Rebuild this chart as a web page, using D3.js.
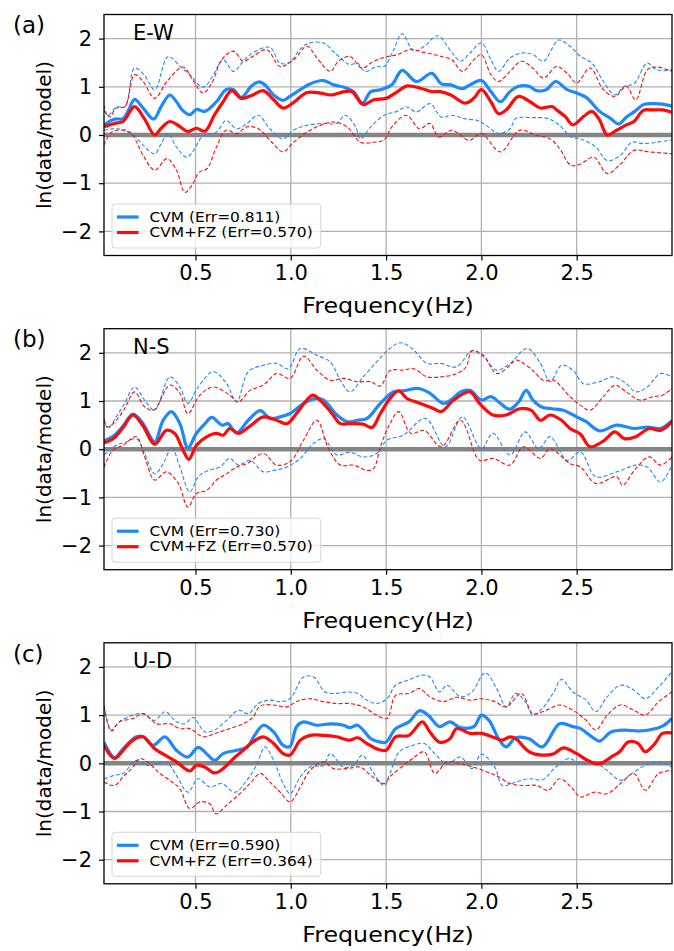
<!DOCTYPE html>
<html>
<head>
<meta charset="utf-8">
<script src="https://cdn.jsdelivr.net/npm/d3@7"></script>
<style>
  body { margin: 0; background: #fff; }
  svg text { font-family: "DejaVu Sans", sans-serif; fill: #000; }
</style>
</head>
<body>
<div id="chart"></div>
<script>
// ---- data: [frequency (Hz), ln(data/model)] ----
const ewCvm = [[0.02,0.21],[0.075,0.33],[0.12,0.34],[0.146,0.49],[0.18,0.74],[0.225,0.56],[0.28,0.33],[0.32,0.59],[0.365,0.83],[0.40,0.69],[0.43,0.52],[0.47,0.42],[0.505,0.53],[0.55,0.49],[0.61,0.69],[0.66,0.94],[0.70,0.94],[0.74,0.78],[0.795,1.02],[0.83,1.10],[0.865,1.04],[0.91,0.83],[0.96,0.72],[0.995,0.80],[1.05,0.94],[1.10,1.06],[1.17,1.13],[1.225,1.04],[1.28,0.99],[1.33,0.90],[1.375,0.66],[1.42,0.90],[1.47,0.94],[1.53,1.04],[1.584,1.34],[1.66,1.11],[1.74,1.28],[1.79,1.06],[1.84,1.04],[1.90,0.96],[1.94,1.04],[2.0,1.13],[2.05,0.90],[2.10,0.69],[2.15,0.90],[2.195,1.01],[2.25,1.01],[2.29,0.92],[2.34,0.94],[2.39,1.11],[2.45,0.94],[2.50,0.87],[2.55,0.78],[2.62,0.49],[2.675,0.35],[2.72,0.23],[2.76,0.37],[2.805,0.49],[2.85,0.63],[2.90,0.65],[2.95,0.64],[3.0,0.60]];
const ewFz = [[0.02,0.17],[0.075,0.24],[0.12,0.28],[0.18,0.59],[0.23,0.35],[0.286,0.0],[0.32,0.14],[0.365,0.28],[0.42,0.17],[0.46,0.07],[0.505,0.14],[0.55,0.08],[0.60,0.42],[0.645,0.69],[0.69,0.92],[0.74,0.76],[0.80,0.83],[0.855,0.92],[0.91,0.73],[0.96,0.56],[1.01,0.66],[1.085,0.88],[1.155,0.87],[1.21,0.83],[1.28,0.90],[1.32,0.90],[1.38,0.63],[1.435,0.73],[1.50,0.76],[1.56,0.90],[1.61,1.02],[1.68,0.97],[1.74,0.90],[1.785,0.90],[1.84,0.83],[1.915,0.66],[1.96,0.76],[2.0,0.94],[2.05,0.69],[2.09,0.44],[2.13,0.52],[2.195,0.80],[2.255,0.69],[2.31,0.56],[2.37,0.59],[2.395,0.52],[2.44,0.38],[2.48,0.21],[2.535,0.38],[2.58,0.49],[2.62,0.31],[2.66,0.0],[2.71,0.10],[2.76,0.21],[2.80,0.28],[2.85,0.51],[2.90,0.52],[2.95,0.52],[3.0,0.47]];
const ewCvmUp = [[0.02,0.62],[0.04,0.40],[0.085,0.58],[0.13,0.59],[0.18,1.39],[0.23,1.25],[0.286,0.94],[0.356,1.63],[0.42,1.42],[0.47,1.25],[0.54,0.99],[0.59,1.22],[0.645,1.56],[0.70,1.32],[0.75,1.53],[0.80,1.70],[0.89,1.82],[0.944,1.49],[0.996,1.51],[1.04,1.74],[1.085,1.89],[1.17,1.91],[1.24,1.67],[1.31,1.46],[1.35,1.49],[1.39,1.32],[1.45,1.42],[1.49,1.42],[1.54,1.77],[1.584,2.10],[1.645,1.74],[1.70,1.84],[1.77,2.06],[1.84,1.74],[1.89,1.53],[1.94,1.70],[2.0,1.91],[2.05,1.56],[2.09,1.32],[2.15,1.60],[2.21,1.70],[2.27,1.67],[2.325,1.53],[2.405,1.97],[2.465,1.84],[2.52,1.63],[2.58,1.49],[2.64,1.11],[2.70,0.83],[2.75,1.01],[2.80,1.06],[2.87,1.49],[2.92,1.35],[3.0,1.35]];
const ewFzUp = [[0.02,0.52],[0.05,0.38],[0.085,0.56],[0.13,0.59],[0.18,1.25],[0.225,1.11],[0.286,0.76],[0.35,1.11],[0.435,1.41],[0.49,1.11],[0.54,0.87],[0.59,1.11],[0.637,1.56],[0.70,1.74],[0.75,1.53],[0.80,1.63],[0.874,1.77],[0.944,1.42],[1.014,1.56],[1.085,1.84],[1.137,1.60],[1.207,1.32],[1.25,1.53],[1.31,1.63],[1.373,1.39],[1.435,1.53],[1.50,1.62],[1.56,1.67],[1.63,1.78],[1.69,1.72],[1.75,1.67],[1.79,1.63],[1.845,1.56],[1.90,1.32],[1.96,1.56],[2.0,1.67],[2.05,1.25],[2.09,1.11],[2.15,1.32],[2.21,1.53],[2.27,1.39],[2.325,1.18],[2.395,1.42],[2.45,1.28],[2.50,1.08],[2.57,1.39],[2.64,0.94],[2.70,0.80],[2.76,1.01],[2.81,0.73],[2.87,1.35],[2.92,1.41],[3.0,1.32]];
const ewCvmLo = [[0.02,0.10],[0.075,0.13],[0.137,0.10],[0.17,0.03],[0.225,-0.21],[0.286,-0.39],[0.32,-0.18],[0.356,0.03],[0.40,-0.25],[0.453,-0.46],[0.49,-0.32],[0.54,-0.01],[0.61,0.06],[0.66,0.30],[0.716,0.13],[0.77,0.24],[0.83,0.41],[0.89,0.13],[0.96,-0.08],[1.014,0.10],[1.085,0.20],[1.17,0.24],[1.24,0.24],[1.286,0.41],[1.34,0.17],[1.365,-0.08],[1.42,0.17],[1.49,0.41],[1.55,0.48],[1.607,0.58],[1.66,0.48],[1.73,0.65],[1.79,0.37],[1.845,0.41],[1.91,0.34],[1.98,0.30],[2.025,0.20],[2.09,0.03],[2.15,0.13],[2.18,0.34],[2.27,0.36],[2.35,0.34],[2.41,0.20],[2.47,-0.04],[2.52,-0.08],[2.60,-0.25],[2.66,-0.53],[2.73,-0.42],[2.79,-0.15],[2.85,-0.18],[2.92,-0.15],[3.0,-0.10]];
const ewFzLo = [[0.02,-0.21],[0.06,0.06],[0.12,0.10],[0.17,-0.01],[0.225,-0.42],[0.286,-0.73],[0.35,-0.49],[0.40,-0.73],[0.444,-1.19],[0.48,-1.05],[0.52,-0.77],[0.56,-0.70],[0.61,-0.25],[0.66,0.10],[0.716,0.03],[0.77,0.17],[0.83,0.13],[0.90,-0.15],[0.96,-0.35],[1.014,-0.15],[1.085,0.06],[1.155,0.20],[1.225,0.27],[1.295,0.17],[1.365,-0.15],[1.435,-0.15],[1.49,-0.10],[1.53,0.17],[1.607,0.41],[1.675,0.13],[1.73,0.24],[1.777,-0.04],[1.845,0.10],[1.935,-0.11],[2.0,0.03],[2.10,-0.35],[2.20,0.10],[2.29,-0.01],[2.36,-0.08],[2.41,-0.28],[2.47,-0.63],[2.52,-0.60],[2.59,-0.46],[2.66,-0.80],[2.73,-0.60],[2.80,-0.32],[2.88,-0.35],[3.0,-0.39]];

const nsCvm = [[0.02,0.17],[0.075,0.29],[0.12,0.48],[0.172,0.73],[0.225,0.53],[0.286,0.15],[0.33,0.60],[0.374,0.78],[0.418,0.53],[0.46,0.03],[0.505,0.33],[0.55,0.53],[0.585,0.66],[0.64,0.50],[0.67,0.53],[0.716,0.34],[0.777,0.60],[0.84,0.80],[0.89,0.64],[0.944,0.67],[0.996,0.74],[1.067,0.95],[1.128,1.05],[1.172,1.02],[1.242,0.71],[1.295,0.57],[1.35,0.60],[1.40,0.64],[1.47,0.95],[1.54,1.19],[1.59,1.21],[1.67,1.26],[1.73,1.16],[1.80,0.95],[1.85,1.05],[1.89,1.19],[1.94,1.22],[2.0,1.02],[2.05,1.09],[2.10,0.95],[2.15,0.83],[2.195,0.98],[2.235,1.22],[2.27,1.02],[2.32,0.87],[2.37,0.84],[2.43,0.81],[2.50,0.67],[2.55,0.57],[2.62,0.38],[2.71,0.50],[2.80,0.43],[2.87,0.46],[2.94,0.43],[3.0,0.59]];
const nsFz = [[0.02,0.13],[0.075,0.24],[0.12,0.45],[0.172,0.71],[0.225,0.48],[0.286,0.10],[0.347,0.39],[0.39,0.33],[0.435,-0.02],[0.465,-0.21],[0.505,0.08],[0.56,0.26],[0.61,0.33],[0.645,0.29],[0.68,0.43],[0.725,0.33],[0.786,0.48],[0.856,0.67],[0.926,0.60],[0.98,0.53],[1.03,0.74],[1.084,1.02],[1.116,1.12],[1.163,0.98],[1.216,0.74],[1.26,0.53],[1.31,0.53],[1.38,0.52],[1.426,0.45],[1.47,0.74],[1.52,1.05],[1.566,1.21],[1.61,1.05],[1.68,0.95],[1.75,0.84],[1.79,0.78],[1.855,1.02],[1.94,1.19],[1.99,0.95],[2.06,0.71],[2.13,0.71],[2.20,0.84],[2.26,0.81],[2.31,0.60],[2.36,0.71],[2.42,0.60],[2.465,0.43],[2.52,0.31],[2.57,0.05],[2.64,0.17],[2.70,0.36],[2.75,0.22],[2.81,0.26],[2.88,0.43],[2.94,0.39],[3.0,0.57]];
const nsCvmUp = [[0.02,0.64],[0.04,0.43],[0.084,0.67],[0.128,0.95],[0.18,1.29],[0.233,1.02],[0.286,0.81],[0.365,1.50],[0.418,1.29],[0.46,0.95],[0.514,1.29],[0.593,1.61],[0.663,1.36],[0.716,0.98],[0.777,1.61],[0.856,1.74],[0.926,1.78],[0.987,1.67],[1.05,2.09],[1.137,1.95],[1.207,1.81],[1.26,1.43],[1.31,1.19],[1.38,1.50],[1.45,1.81],[1.52,2.09],[1.575,2.21],[1.636,2.09],[1.715,1.78],[1.785,1.78],[1.87,1.71],[1.95,2.04],[2.01,1.92],[2.08,1.64],[2.15,1.78],[2.24,2.09],[2.31,1.78],[2.36,1.40],[2.42,1.74],[2.48,1.64],[2.535,1.36],[2.62,1.40],[2.69,1.50],[2.76,1.36],[2.81,1.19],[2.87,1.29],[2.94,1.57],[3.0,1.50]];
const nsFzUp = [[0.02,0.60],[0.04,0.46],[0.084,0.60],[0.128,0.84],[0.18,1.19],[0.233,0.88],[0.28,0.81],[0.365,1.33],[0.418,1.16],[0.46,0.74],[0.523,1.12],[0.593,1.29],[0.68,1.12],[0.725,0.98],[0.786,1.22],[0.856,1.33],[0.926,1.57],[0.996,1.47],[1.067,1.93],[1.137,1.64],[1.207,1.43],[1.277,1.47],[1.35,1.40],[1.42,1.40],[1.47,1.31],[1.52,1.63],[1.59,1.64],[1.645,1.67],[1.715,1.50],[1.785,1.50],[1.87,1.57],[1.92,1.71],[1.95,2.04],[2.01,1.95],[2.08,1.57],[2.15,1.74],[2.18,1.85],[2.26,1.67],[2.325,1.43],[2.38,1.43],[2.465,1.09],[2.52,0.91],[2.57,0.81],[2.64,1.09],[2.70,1.33],[2.76,1.19],[2.83,1.02],[2.90,1.09],[2.95,1.12],[3.0,1.26]];
const nsCvmLo = [[0.02,-0.12],[0.084,0.08],[0.137,0.15],[0.19,0.22],[0.233,-0.09],[0.286,-0.51],[0.34,-0.23],[0.374,0.06],[0.418,-0.37],[0.47,-0.89],[0.514,-0.57],[0.567,-0.44],[0.628,-0.37],[0.68,-0.19],[0.725,-0.33],[0.786,-0.23],[0.856,-0.47],[0.91,-0.44],[0.98,-0.37],[1.05,-0.19],[1.12,0.12],[1.172,0.22],[1.242,-0.12],[1.31,-0.06],[1.38,-0.16],[1.45,-0.09],[1.505,0.19],[1.59,0.29],[1.706,0.64],[1.81,0.05],[1.90,0.67],[2.0,0.01],[2.06,0.33],[2.15,-0.12],[2.23,0.36],[2.30,0.01],[2.36,0.26],[2.45,-0.23],[2.52,-0.06],[2.60,-0.57],[2.71,-0.47],[2.81,-0.33],[2.87,-0.37],[2.94,-0.68],[3.0,-0.33]];
const nsFzLo = [[0.02,-0.37],[0.066,-0.02],[0.12,0.08],[0.19,0.26],[0.233,-0.16],[0.286,-0.64],[0.347,-0.47],[0.41,-0.71],[0.46,-1.20],[0.505,-0.92],[0.56,-0.85],[0.61,-0.64],[0.663,-0.51],[0.716,-0.37],[0.77,-0.30],[0.856,-0.09],[0.926,-0.33],[0.996,-0.26],[1.067,0.19],[1.137,0.60],[1.198,0.01],[1.26,-0.33],[1.33,-0.33],[1.40,-0.44],[1.435,-0.40],[1.47,0.05],[1.52,0.53],[1.566,0.78],[1.63,0.33],[1.70,0.39],[1.79,0.05],[1.89,0.60],[1.99,-0.23],[2.06,-0.19],[2.15,-0.33],[2.22,0.05],[2.31,-0.19],[2.36,0.01],[2.465,-0.30],[2.52,-0.37],[2.60,-0.71],[2.71,-0.57],[2.74,-0.75],[2.81,-0.40],[2.88,-0.16],[2.94,-0.33],[3.0,-0.16]];

const udCvm = [[0.02,0.44],[0.075,0.12],[0.12,0.30],[0.19,0.55],[0.225,0.55],[0.277,0.37],[0.34,0.55],[0.40,0.27],[0.46,0.13],[0.514,0.33],[0.558,0.20],[0.60,0.06],[0.645,0.20],[0.716,0.27],[0.77,0.33],[0.81,0.58],[0.856,0.79],[0.91,0.65],[0.96,0.37],[0.996,0.35],[1.03,0.76],[1.067,0.86],[1.137,0.79],[1.207,0.82],[1.277,0.79],[1.31,0.74],[1.35,0.79],[1.38,0.69],[1.42,0.51],[1.47,0.44],[1.50,0.44],[1.55,0.72],[1.62,0.86],[1.675,1.09],[1.72,1.0],[1.78,0.76],[1.835,0.86],[1.89,0.74],[1.96,0.76],[2.0,1.0],[2.04,0.89],[2.09,0.51],[2.13,0.34],[2.18,0.53],[2.25,0.51],[2.32,0.34],[2.41,0.82],[2.48,0.76],[2.52,0.72],[2.58,0.55],[2.62,0.46],[2.68,0.65],[2.75,0.69],[2.82,0.67],[2.88,0.69],[2.95,0.77],[3.0,0.93]];
const udFz = [[0.02,0.37],[0.075,0.10],[0.12,0.27],[0.172,0.48],[0.225,0.55],[0.286,0.30],[0.34,0.17],[0.40,0.03],[0.47,-0.16],[0.505,-0.04],[0.55,-0.08],[0.60,-0.20],[0.645,-0.11],[0.70,0.10],[0.75,0.27],[0.80,0.44],[0.856,0.55],[0.91,0.41],[0.96,0.20],[0.996,0.17],[1.05,0.48],[1.10,0.58],[1.17,0.58],[1.24,0.55],[1.31,0.48],[1.35,0.53],[1.40,0.41],[1.45,0.30],[1.50,0.27],[1.55,0.55],[1.62,0.58],[1.69,0.86],[1.73,0.65],[1.78,0.44],[1.835,0.51],[1.87,0.72],[1.94,0.62],[2.0,0.62],[2.07,0.53],[2.11,0.48],[2.15,0.55],[2.18,0.51],[2.25,0.24],[2.32,0.17],[2.38,0.20],[2.43,0.32],[2.50,0.20],[2.54,0.10],[2.60,-0.01],[2.635,0.01],[2.68,0.13],[2.725,0.24],[2.77,0.44],[2.82,0.42],[2.86,0.24],[2.91,0.41],[2.95,0.62],[3.0,0.63]];
const udCvmUp = [[0.02,1.21],[0.058,0.69],[0.10,0.86],[0.172,1.0],[0.225,1.03],[0.286,0.89],[0.34,1.07],[0.40,0.86],[0.444,0.82],[0.488,0.95],[0.55,0.65],[0.60,0.69],[0.663,0.89],[0.725,1.10],[0.777,1.03],[0.83,1.24],[0.89,1.31],[0.944,1.28],[0.996,1.34],[1.067,1.79],[1.12,1.79],[1.18,1.48],[1.24,1.45],[1.295,1.48],[1.35,1.45],[1.40,1.31],[1.45,1.24],[1.505,1.34],[1.55,1.62],[1.62,1.73],[1.69,1.83],[1.73,1.79],[1.78,1.48],[1.82,1.62],[1.89,1.38],[1.95,1.48],[2.02,1.88],[2.08,1.55],[2.13,1.17],[2.18,1.45],[2.23,1.28],[2.27,1.0],[2.32,1.14],[2.38,1.48],[2.42,1.74],[2.48,1.48],[2.55,1.31],[2.60,1.07],[2.66,1.38],[2.73,1.62],[2.80,1.52],[2.86,1.34],[2.93,1.59],[3.0,1.90]];
const udFzUp = [[0.02,1.17],[0.058,0.67],[0.10,0.86],[0.172,0.93],[0.225,1.03],[0.295,0.82],[0.365,0.82],[0.418,0.72],[0.47,0.72],[0.54,0.55],[0.61,0.63],[0.68,0.72],[0.75,0.82],[0.80,0.95],[0.84,1.19],[0.91,1.21],[0.98,1.17],[1.03,1.28],[1.10,1.34],[1.17,1.28],[1.24,1.24],[1.31,1.24],[1.38,1.17],[1.45,1.0],[1.505,0.93],[1.55,1.41],[1.62,1.45],[1.675,1.55],[1.73,1.38],[1.80,1.28],[1.87,1.37],[1.94,1.31],[2.0,1.34],[2.07,1.28],[2.13,1.17],[2.21,1.45],[2.27,1.03],[2.34,1.10],[2.41,1.21],[2.48,1.10],[2.55,0.89],[2.60,0.69],[2.66,1.0],[2.73,1.21],[2.80,1.10],[2.86,1.0],[2.93,1.28],[3.0,1.48]];
const udCvmLo = [[0.02,-0.32],[0.075,-0.25],[0.12,-0.21],[0.19,0.06],[0.24,-0.04],[0.295,-0.01],[0.347,0.03],[0.40,-0.25],[0.46,-0.60],[0.514,-0.32],[0.575,-0.49],[0.637,-0.42],[0.707,-0.60],[0.77,-0.35],[0.82,-0.04],[0.865,0.34],[0.91,0.06],[0.96,-0.42],[0.996,-0.63],[1.05,-0.28],[1.10,-0.08],[1.17,-0.04],[1.207,0.20],[1.277,-0.08],[1.33,-0.04],[1.375,0.17],[1.43,-0.18],[1.49,-0.46],[1.52,-0.21],[1.57,0.24],[1.64,0.37],[1.70,0.41],[1.755,0.20],[1.82,-0.01],[1.89,0.13],[1.95,-0.11],[2.0,0.19],[2.07,-0.08],[2.11,-0.46],[2.18,-0.39],[2.25,-0.32],[2.32,-0.34],[2.39,-0.08],[2.46,0.10],[2.52,-0.01],[2.59,0.03],[2.66,-0.15],[2.73,-0.35],[2.80,-0.18],[2.86,-0.04],[2.93,0.03],[3.0,-0.08]];
const udFzLo = [[0.02,-0.39],[0.075,-0.46],[0.12,-0.28],[0.172,-0.08],[0.207,0.10],[0.26,-0.01],[0.312,-0.21],[0.365,-0.35],[0.418,-0.53],[0.47,-0.94],[0.523,-0.80],[0.575,-0.84],[0.607,-1.05],[0.663,-0.87],[0.733,-0.63],[0.786,-0.42],[0.84,-0.21],[0.89,-0.39],[0.944,-0.60],[0.996,-0.80],[1.05,-0.49],[1.10,-0.15],[1.17,0.03],[1.225,-0.11],[1.295,-0.11],[1.365,-0.08],[1.42,-0.25],[1.49,-0.42],[1.52,-0.28],[1.57,-0.11],[1.64,0.10],[1.70,0.24],[1.755,-0.21],[1.82,0.03],[1.89,-0.01],[1.96,-0.08],[2.03,-0.18],[2.09,-0.28],[2.15,-0.42],[2.22,-0.46],[2.29,-0.46],[2.35,-0.56],[2.41,-0.32],[2.47,-0.49],[2.52,-0.70],[2.59,-0.60],[2.66,-0.63],[2.73,-0.42],[2.80,-0.21],[2.86,-0.56],[2.93,-0.21],[3.0,-0.15]];

const panelTags = ['(a)', '(b)', '(c)'];
const components = ['E-W', 'N-S', 'U-D'];
const errCvm = ['0.811', '0.730', '0.590'];
const errFz = ['0.570', '0.570', '0.364'];
const xTicks = [0.5, 1.0, 1.5, 2.0, 2.5];
const yTicks = [-2, -1, 0, 1, 2];

const panels = [
  {cvm: ewCvm, cvmUp: ewCvmUp, cvmLo: ewCvmLo, fz: ewFz, fzUp: ewFzUp, fzLo: ewFzLo},
  {cvm: nsCvm, cvmUp: nsCvmUp, cvmLo: nsCvmLo, fz: nsFz, fzUp: nsFzUp, fzLo: nsFzLo},
  {cvm: udCvm, cvmUp: udCvmUp, cvmLo: udCvmLo, fz: udFz, fzUp: udFzUp, fzLo: udFzLo}
];

// ---- layout ----
const W = 674, H = 951;
const left = 104, plotW = 568, plotH = 241;
const tops = [14.5, 328.7, 642.8];
const blue = '#1e88ff', red = '#ff0a0a';

const svg = d3.select('#chart').append('svg')
  .attr('width', W).attr('height', H);

const x = d3.scaleLinear().domain([0.02, 3.0]).range([0, plotW]);
const y = d3.scaleLinear().domain([-2.5, 2.5]).range([plotH, 0]);

const line = d3.line()
  .x(d => x(d[0]))
  .y(d => y(d[1]))
  .curve(d3.curveCatmullRom.alpha(0.5));

const fmtY = d => d < 0 ? '\u2212' + Math.abs(d) : String(d);

panels.forEach((p, i) => {
  const g = svg.append('g').attr('transform', `translate(${left},${tops[i]})`);

  g.append('clipPath').attr('id', 'clip' + i)
    .append('rect').attr('width', plotW).attr('height', plotH);

  // grid
  g.append('g').selectAll('line.gx').data(xTicks).join('line')
    .attr('x1', d => x(d)).attr('x2', d => x(d))
    .attr('y1', 0).attr('y2', plotH)
    .attr('stroke', '#b0b0b0').attr('stroke-width', 1.3);
  g.append('g').selectAll('line.gy').data(yTicks).join('line')
    .attr('x1', 0).attr('x2', plotW)
    .attr('y1', d => y(d)).attr('y2', d => y(d))
    .attr('stroke', '#b0b0b0').attr('stroke-width', 1.3);

  // zero reference band
  g.append('line')
    .attr('x1', 0).attr('x2', plotW)
    .attr('y1', y(0)).attr('y2', y(0))
    .attr('stroke', '#858585').attr('stroke-width', 4.5);

  const lines = g.append('g').attr('clip-path', `url(#clip${i})`);
  const series = [
    {d: p.cvmUp, c: blue, w: 1.1, dash: '4,2.2'},
    {d: p.cvmLo, c: blue, w: 1.1, dash: '4,2.2'},
    {d: p.fzUp, c: red, w: 1.1, dash: '4,2.2'},
    {d: p.fzLo, c: red, w: 1.1, dash: '4,2.2'},
    {d: p.cvm, c: blue, w: 3.2, dash: null},
    {d: p.fz, c: red, w: 3.2, dash: null}
  ];
  series.forEach(s => {
    lines.append('path')
      .datum(s.d)
      .attr('d', line)
      .attr('fill', 'none')
      .attr('stroke', s.c)
      .attr('stroke-width', s.w)
      .attr('stroke-dasharray', s.dash);
  });

  // axes
  const xa = g.append('g').attr('transform', `translate(0,${plotH})`)
    .call(d3.axisBottom(x).tickValues(xTicks).tickFormat(d3.format('.1f')).tickSize(5).tickPadding(5));
  const ya = g.append('g')
    .call(d3.axisLeft(y).tickValues(yTicks).tickFormat(fmtY).tickSize(5).tickPadding(7));
  [xa, ya].forEach(a => {
    a.select('.domain').remove();
    a.selectAll('.tick line').attr('stroke', '#000').attr('stroke-width', 1.2);
    a.selectAll('.tick text').attr('font-size', 21).attr('font-family', 'DejaVu Sans').attr('fill', '#000');
  });

  g.append('rect').attr('width', plotW).attr('height', plotH)
    .attr('fill', 'none').attr('stroke', '#000').attr('stroke-width', 1.3);

  // legend
  const lg = g.append('g').attr('transform', 'translate(8,189.5)');
  lg.append('rect').attr('width', 208.7).attr('height', 44).attr('rx', 3)
    .attr('fill', '#fff').attr('fill-opacity', 0.8)
    .attr('stroke', '#d6d6d6').attr('stroke-width', 1);
  const items = [
    {c: blue, t: `CVM (Err=${errCvm[i]})`},
    {c: red, t: `CVM+FZ (Err=${errFz[i]})`}
  ];
  items.forEach((it, k) => {
    const yy = 13 + k * 15.5;
    lg.append('line').attr('x1', 5).attr('x2', 26.6).attr('y1', yy).attr('y2', yy)
      .attr('stroke', it.c).attr('stroke-width', 3.2);
    lg.append('text')
      .attr('transform', `translate(37.4,${yy}) scale(1.17,1)`)
      .attr('dy', '0.36em')
      .attr('font-size', 13.2).text(it.t);
  });

  // labels
  g.append('text').attr('x', 29).attr('y', 17.5).attr('dy', '0.36em')
    .attr('font-size', 21).text(components[i]);
  svg.append('text').attr('x', 13).attr('y', tops[i] + 10.5).attr('dy', '0.36em')
    .attr('font-size', 23).text(panelTags[i]);
  svg.append('text')
    .attr('transform', `translate(${left + plotW / 2},${tops[i] + plotH + 50}) scale(1.08,1)`)
    .attr('dy', '0.36em')
    .attr('text-anchor', 'middle').attr('font-size', 22).text('Frequency(Hz)');
  svg.append('text')
    .attr('transform', `translate(43.5,${tops[i] + plotH / 2}) rotate(-90)`)
    .attr('dy', '0.36em').attr('text-anchor', 'middle').attr('font-size', 20)
    .text('ln(data/model)');
});
</script>
</body>
</html>
